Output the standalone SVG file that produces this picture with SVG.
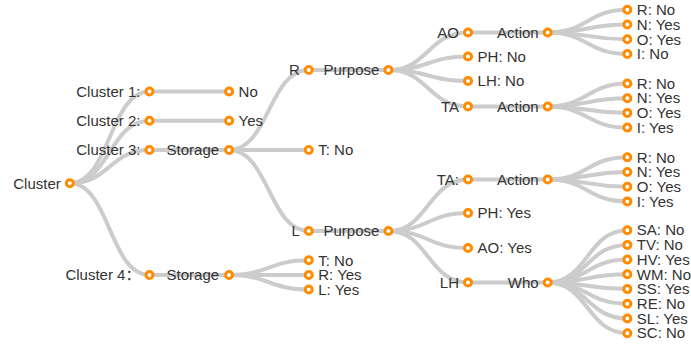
<svg xmlns="http://www.w3.org/2000/svg" width="691" height="348" viewBox="0 0 691 348">
<style>
.e{fill:none;stroke:#cccccc;stroke-width:4}
.n circle{fill:#ffffff;stroke:#ff8c00;stroke-width:3}
text{font-family:"Liberation Sans","Noto Sans CJK SC",Arial,sans-serif;font-size:15px;fill:#333333}
.l{text-anchor:end}
.r{text-anchor:start}
</style>
<rect width="691" height="348" fill="#ffffff"/>
<g id="connectors">
<path class="e" d="M69.8 183.3C109.6 183.3 109.6 91.5 149.45 91.5"/>
<path class="e" d="M69.8 183.3C109.6 183.3 109.6 120.8 149.45 120.8"/>
<path class="e" d="M69.8 183.3C109.6 183.3 109.6 150 149.45 150"/>
<path class="e" d="M69.8 183.3C109.6 183.3 109.6 275 149.45 275"/>
<path class="e" d="M149.45 91.5L229.1 91.5"/>
<path class="e" d="M149.45 120.8L229.1 120.8"/>
<path class="e" d="M149.45 150L229.1 150"/>
<path class="e" d="M149.45 275L229.1 275"/>
<path class="e" d="M229.1 150C268.9 150 268.9 70 308.75 70"/>
<path class="e" d="M229.1 150L308.75 150"/>
<path class="e" d="M229.1 150C268.9 150 268.9 231 308.75 231"/>
<path class="e" d="M229.1 275C268.9 275 268.9 260.3 308.75 260.3"/>
<path class="e" d="M229.1 275L308.75 275"/>
<path class="e" d="M229.1 275C268.9 275 268.9 289.5 308.75 289.5"/>
<path class="e" d="M308.75 70L388.4 70"/>
<path class="e" d="M308.75 231L388.4 231"/>
<path class="e" d="M388.4 70C428.2 70 428.2 32.5 468.05 32.5"/>
<path class="e" d="M388.4 70C428.2 70 428.2 56.5 468.05 56.5"/>
<path class="e" d="M388.4 70C428.2 70 428.2 81 468.05 81"/>
<path class="e" d="M388.4 70C428.2 70 428.2 106.5 468.05 106.5"/>
<path class="e" d="M388.4 231C428.2 231 428.2 179.5 468.05 179.5"/>
<path class="e" d="M388.4 231C428.2 231 428.2 213 468.05 213"/>
<path class="e" d="M388.4 231C428.2 231 428.2 248 468.05 248"/>
<path class="e" d="M388.4 231C428.2 231 428.2 282.5 468.05 282.5"/>
<path class="e" d="M468.05 32.5L547.7 32.5"/>
<path class="e" d="M468.05 106.5L547.7 106.5"/>
<path class="e" d="M468.05 179.5L547.7 179.5"/>
<path class="e" d="M468.05 282.5L547.7 282.5"/>
<path class="e" d="M547.7 32.5C587.5 32.5 587.5 9.8 627.35 9.8"/>
<path class="e" d="M547.7 32.5C587.5 32.5 587.5 24.5 627.35 24.5"/>
<path class="e" d="M547.7 32.5C587.5 32.5 587.5 39.3 627.35 39.3"/>
<path class="e" d="M547.7 32.5C587.5 32.5 587.5 54 627.35 54"/>
<path class="e" d="M547.7 106.5C587.5 106.5 587.5 83.5 627.35 83.5"/>
<path class="e" d="M547.7 106.5C587.5 106.5 587.5 98.2 627.35 98.2"/>
<path class="e" d="M547.7 106.5C587.5 106.5 587.5 112.9 627.35 112.9"/>
<path class="e" d="M547.7 106.5C587.5 106.5 587.5 127.6 627.35 127.6"/>
<path class="e" d="M547.7 179.5C587.5 179.5 587.5 157.3 627.35 157.3"/>
<path class="e" d="M547.7 179.5C587.5 179.5 587.5 172 627.35 172"/>
<path class="e" d="M547.7 179.5C587.5 179.5 587.5 186.7 627.35 186.7"/>
<path class="e" d="M547.7 179.5C587.5 179.5 587.5 201.4 627.35 201.4"/>
<path class="e" d="M547.7 282.5C587.5 282.5 587.5 230.2 627.35 230.2"/>
<path class="e" d="M547.7 282.5C587.5 282.5 587.5 244.9 627.35 244.9"/>
<path class="e" d="M547.7 282.5C587.5 282.5 587.5 259.6 627.35 259.6"/>
<path class="e" d="M547.7 282.5C587.5 282.5 587.5 274.3 627.35 274.3"/>
<path class="e" d="M547.7 282.5C587.5 282.5 587.5 289.1 627.35 289.1"/>
<path class="e" d="M547.7 282.5C587.5 282.5 587.5 303.8 627.35 303.8"/>
<path class="e" d="M547.7 282.5C587.5 282.5 587.5 318.5 627.35 318.5"/>
<path class="e" d="M547.7 282.5C587.5 282.5 587.5 333.2 627.35 333.2"/>
</g>
<g id="n-cluster" class="n"><circle cx="69.8" cy="183.3" r="3.5"/><text class="l" x="60.8" y="188.5">Cluster</text></g>
<g id="n-c1" class="n"><circle cx="149.45" cy="91.5" r="3.5"/><text class="l" x="140.45" y="96.7">Cluster 1:</text></g>
<g id="n-c2" class="n"><circle cx="149.45" cy="120.8" r="3.5"/><text class="l" x="140.45" y="126">Cluster 2:</text></g>
<g id="n-c3" class="n"><circle cx="149.45" cy="150" r="3.5"/><text class="l" x="140.45" y="155.2">Cluster 3:</text></g>
<g id="n-c4" class="n"><circle cx="149.45" cy="275" r="3.5"/><text class="l" x="140.45" y="280.2">Cluster 4：</text></g>
<g id="n-c1-no" class="n"><circle cx="229.1" cy="91.5" r="3.5"/><text class="r" x="238.6" y="96.7">No</text></g>
<g id="n-c2-yes" class="n"><circle cx="229.1" cy="120.8" r="3.5"/><text class="r" x="238.6" y="126">Yes</text></g>
<g id="n-c3-storage" class="n"><circle cx="229.1" cy="150" r="3.5"/><text class="l" x="219.1" y="155.2">Storage</text></g>
<g id="n-c4-storage" class="n"><circle cx="229.1" cy="275" r="3.5"/><text class="l" x="219.1" y="280.2">Storage</text></g>
<g id="n-r" class="n"><circle cx="308.75" cy="70" r="3.5"/><text class="l" x="299.75" y="75.2">R</text></g>
<g id="n-c3-t" class="n"><circle cx="308.75" cy="150" r="3.5"/><text class="r" x="318.25" y="155.2">T: No</text></g>
<g id="n-l" class="n"><circle cx="308.75" cy="231" r="3.5"/><text class="l" x="299.75" y="236.2">L</text></g>
<g id="n-c4-t" class="n"><circle cx="308.75" cy="260.3" r="3.5"/><text class="r" x="318.25" y="265.5">T: No</text></g>
<g id="n-c4-r" class="n"><circle cx="308.75" cy="275" r="3.5"/><text class="r" x="318.25" y="280.2">R: Yes</text></g>
<g id="n-c4-l" class="n"><circle cx="308.75" cy="289.5" r="3.5"/><text class="r" x="318.25" y="294.7">L: Yes</text></g>
<g id="n-r-purpose" class="n"><circle cx="388.4" cy="70" r="3.5"/><text class="l" x="379.4" y="75.2">Purpose</text></g>
<g id="n-l-purpose" class="n"><circle cx="388.4" cy="231" r="3.5"/><text class="l" x="379.4" y="236.2">Purpose</text></g>
<g id="n-r-ao" class="n"><circle cx="468.05" cy="32.5" r="3.5"/><text class="l" x="459.05" y="37.7">AO</text></g>
<g id="n-r-ph" class="n"><circle cx="468.05" cy="56.5" r="3.5"/><text class="r" x="477.55" y="61.7">PH: No</text></g>
<g id="n-r-lh" class="n"><circle cx="468.05" cy="81" r="3.5"/><text class="r" x="477.55" y="86.2">LH: No</text></g>
<g id="n-r-ta" class="n"><circle cx="468.05" cy="106.5" r="3.5"/><text class="l" x="459.05" y="111.7">TA</text></g>
<g id="n-l-ta" class="n"><circle cx="468.05" cy="179.5" r="3.5"/><text class="l" x="459.05" y="184.7">TA:</text></g>
<g id="n-l-ph" class="n"><circle cx="468.05" cy="213" r="3.5"/><text class="r" x="477.55" y="218.2">PH: Yes</text></g>
<g id="n-l-ao" class="n"><circle cx="468.05" cy="248" r="3.5"/><text class="r" x="477.55" y="253.2">AO: Yes</text></g>
<g id="n-l-lh" class="n"><circle cx="468.05" cy="282.5" r="3.5"/><text class="l" x="459.05" y="287.7">LH</text></g>
<g id="n-action1" class="n"><circle cx="547.7" cy="32.5" r="3.5"/><text class="l" x="538.7" y="37.7">Action</text></g>
<g id="n-action2" class="n"><circle cx="547.7" cy="106.5" r="3.5"/><text class="l" x="538.7" y="111.7">Action</text></g>
<g id="n-action3" class="n"><circle cx="547.7" cy="179.5" r="3.5"/><text class="l" x="538.7" y="184.7">Action</text></g>
<g id="n-who" class="n"><circle cx="547.7" cy="282.5" r="3.5"/><text class="l" x="538.7" y="287.7">Who</text></g>
<g id="n-a1-r" class="n"><circle cx="627.35" cy="9.8" r="3.5"/><text class="r" x="636.85" y="15">R: No</text></g>
<g id="n-a1-n" class="n"><circle cx="627.35" cy="24.5" r="3.5"/><text class="r" x="636.85" y="29.7">N: Yes</text></g>
<g id="n-a1-o" class="n"><circle cx="627.35" cy="39.3" r="3.5"/><text class="r" x="636.85" y="44.5">O: Yes</text></g>
<g id="n-a1-i" class="n"><circle cx="627.35" cy="54" r="3.5"/><text class="r" x="636.85" y="59.2">I: No</text></g>
<g id="n-a2-r" class="n"><circle cx="627.35" cy="83.5" r="3.5"/><text class="r" x="636.85" y="88.7">R: No</text></g>
<g id="n-a2-n" class="n"><circle cx="627.35" cy="98.2" r="3.5"/><text class="r" x="636.85" y="103.4">N: Yes</text></g>
<g id="n-a2-o" class="n"><circle cx="627.35" cy="112.9" r="3.5"/><text class="r" x="636.85" y="118.1">O: Yes</text></g>
<g id="n-a2-i" class="n"><circle cx="627.35" cy="127.6" r="3.5"/><text class="r" x="636.85" y="132.8">I: Yes</text></g>
<g id="n-a3-r" class="n"><circle cx="627.35" cy="157.3" r="3.5"/><text class="r" x="636.85" y="162.5">R: No</text></g>
<g id="n-a3-n" class="n"><circle cx="627.35" cy="172" r="3.5"/><text class="r" x="636.85" y="177.2">N: Yes</text></g>
<g id="n-a3-o" class="n"><circle cx="627.35" cy="186.7" r="3.5"/><text class="r" x="636.85" y="191.9">O: Yes</text></g>
<g id="n-a3-i" class="n"><circle cx="627.35" cy="201.4" r="3.5"/><text class="r" x="636.85" y="206.6">I: Yes</text></g>
<g id="n-w-sa" class="n"><circle cx="627.35" cy="230.2" r="3.5"/><text class="r" x="636.85" y="235.4">SA: No</text></g>
<g id="n-w-tv" class="n"><circle cx="627.35" cy="244.9" r="3.5"/><text class="r" x="636.85" y="250.1">TV: No</text></g>
<g id="n-w-hv" class="n"><circle cx="627.35" cy="259.6" r="3.5"/><text class="r" x="636.85" y="264.8">HV: Yes</text></g>
<g id="n-w-wm" class="n"><circle cx="627.35" cy="274.3" r="3.5"/><text class="r" x="636.85" y="279.5">WM: No</text></g>
<g id="n-w-ss" class="n"><circle cx="627.35" cy="289.1" r="3.5"/><text class="r" x="636.85" y="294.3">SS: Yes</text></g>
<g id="n-w-re" class="n"><circle cx="627.35" cy="303.8" r="3.5"/><text class="r" x="636.85" y="309">RE: No</text></g>
<g id="n-w-sl" class="n"><circle cx="627.35" cy="318.5" r="3.5"/><text class="r" x="636.85" y="323.7">SL: Yes</text></g>
<g id="n-w-sc" class="n"><circle cx="627.35" cy="333.2" r="3.5"/><text class="r" x="636.85" y="338.4">SC: No</text></g>
</svg>
